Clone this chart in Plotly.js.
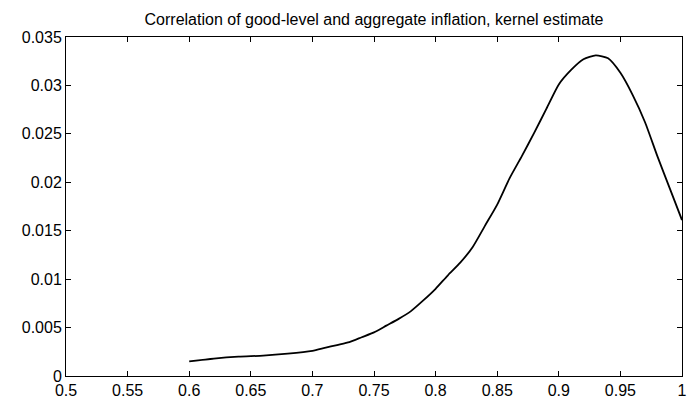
<!DOCTYPE html>
<html>
<head>
<meta charset="utf-8">
<script src="https://cdn.plot.ly/plotly-3.0.1.min.js"></script>
<style>html,body{margin:0;padding:0;background:#fff;}#chart{width:692px;height:404px;}</style>
</head>
<body>
<div id="chart"></div>
<script>
const xValues = [0.60,0.62,0.64,0.66,0.68,0.70,0.71,0.72,0.73,0.74,0.75,0.76,0.77,0.78,0.79,0.80,0.81,0.82,0.83,0.84,0.85,0.86,0.87,0.88,0.89,0.90,0.91,0.92,0.93,0.94,0.95,0.96,0.97,0.98,0.99,1.00];
const densityValues = [0.0015,0.0018,0.0020,0.0021,0.0023,0.0026,0.0029,0.0032,0.0035,0.0040,0.0045,0.0052,0.0059,0.0067,0.0078,0.0090,0.0104,0.0117,0.0133,0.0155,0.0177,0.0204,0.0227,0.0251,0.0276,0.0301,0.0316,0.0327,0.0331,0.0328,0.0313,0.0290,0.0262,0.0227,0.0194,0.0161];
const xTickVals = [0.5,0.55,0.6,0.65,0.7,0.75,0.8,0.85,0.9,0.95,1];
const xTickText = ["0.5","0.55","0.6","0.65","0.7","0.75","0.8","0.85","0.9","0.95","1"];
const yTickVals = [0,0.005,0.01,0.015,0.02,0.025,0.03,0.035];
const yTickText = ["0","0.005","0.01","0.015","0.02","0.025","0.03","0.035"];
const chartTitle = "Correlation of good-level and aggregate inflation, kernel estimate";

const font = {family: "Liberation Sans, Arial, sans-serif", size: 16, color: "#000"};
const axisCommon = {
  showline: true, linecolor: "#000", linewidth: 1, mirror: "ticks",
  ticks: "inside", ticklen: 5, tickcolor: "#000", tickwidth: 1,
  showgrid: false, zeroline: false, tickfont: font
};
Plotly.newPlot("chart", [{
  x: xValues, y: densityValues, type: "scatter", mode: "lines",
  line: {color: "#000", width: 1.8, shape: "spline", smoothing: 0.6},
  hoverinfo: "skip"
}], {
  width: 692, height: 404,
  margin: {l: 66, r: 10, t: 37, b: 28},
  paper_bgcolor: "#fff", plot_bgcolor: "#fff",
  showlegend: false,
  title: {text: chartTitle, font: {family: font.family, size: 16, color: "#000"}, x: 0.5405, xanchor: "center", y: 0.953, yref: "container", yanchor: "middle"},
  xaxis: Object.assign({}, axisCommon, {range: [0.5, 1], tickvals: xTickVals, ticktext: xTickText}),
  yaxis: Object.assign({}, axisCommon, {range: [0, 0.035], tickvals: yTickVals, ticktext: yTickText})
}, {staticPlot: true});
</script>
</body>
</html>
